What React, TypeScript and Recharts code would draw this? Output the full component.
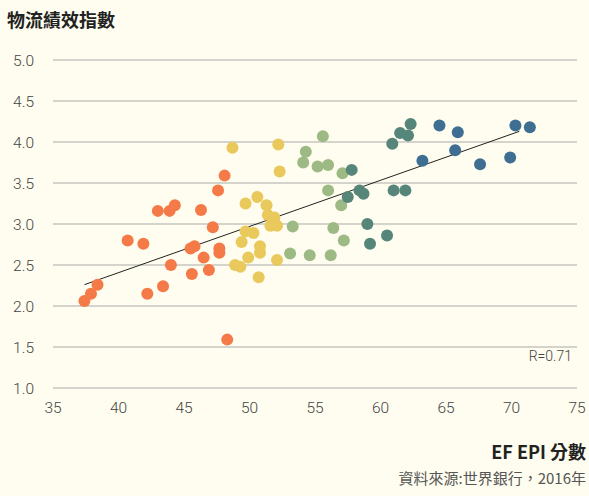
import React from 'react';
import { ScatterChart, Scatter, XAxis, YAxis, CartesianGrid, ReferenceLine } from 'recharts';

const orange = [
  { x: 37.4, y: 2.06 }, { x: 37.9, y: 2.15 }, { x: 38.4, y: 2.26 }, { x: 40.7, y: 2.8 },
  { x: 41.9, y: 2.76 }, { x: 42.2, y: 2.15 }, { x: 43.4, y: 2.24 }, { x: 43.0, y: 3.16 },
  { x: 43.9, y: 3.16 }, { x: 44.3, y: 3.23 }, { x: 44.0, y: 2.5 }, { x: 45.5, y: 2.7 },
  { x: 45.8, y: 2.73 }, { x: 45.6, y: 2.39 }, { x: 46.3, y: 3.17 }, { x: 46.5, y: 2.59 },
  { x: 46.9, y: 2.44 }, { x: 47.2, y: 2.96 }, { x: 47.6, y: 3.41 }, { x: 48.1, y: 3.59 },
  { x: 47.7, y: 2.7 }, { x: 47.7, y: 2.65 }, { x: 48.3, y: 1.59 },
];
const yellow = [
  { x: 48.7, y: 3.93 }, { x: 52.2, y: 3.97 }, { x: 52.3, y: 3.64 }, { x: 49.7, y: 3.25 },
  { x: 50.6, y: 3.33 }, { x: 51.3, y: 3.23 }, { x: 51.4, y: 3.11 }, { x: 51.9, y: 3.08 },
  { x: 51.6, y: 2.98 }, { x: 52.1, y: 2.98 }, { x: 49.7, y: 2.91 }, { x: 50.3, y: 2.89 },
  { x: 49.4, y: 2.78 }, { x: 50.8, y: 2.73 }, { x: 50.8, y: 2.65 }, { x: 49.9, y: 2.59 },
  { x: 48.9, y: 2.5 }, { x: 49.3, y: 2.48 }, { x: 52.1, y: 2.56 }, { x: 50.7, y: 2.35 },
];
const lightGreen = [
  { x: 55.6, y: 4.07 }, { x: 54.3, y: 3.88 }, { x: 54.1, y: 3.75 }, { x: 55.2, y: 3.7 },
  { x: 56.0, y: 3.72 }, { x: 57.1, y: 3.62 }, { x: 56.0, y: 3.41 }, { x: 57.0, y: 3.23 },
  { x: 53.3, y: 2.97 }, { x: 56.4, y: 2.95 }, { x: 57.2, y: 2.8 }, { x: 53.1, y: 2.64 },
  { x: 54.6, y: 2.62 }, { x: 56.2, y: 2.62 },
];
const teal = [
  { x: 57.8, y: 3.66 }, { x: 57.5, y: 3.33 }, { x: 58.4, y: 3.41 }, { x: 58.7, y: 3.37 },
  { x: 59.0, y: 3.0 }, { x: 59.2, y: 2.76 }, { x: 60.5, y: 2.86 }, { x: 60.9, y: 3.98 },
  { x: 61.0, y: 3.41 }, { x: 61.9, y: 3.41 }, { x: 61.5, y: 4.11 }, { x: 62.1, y: 4.08 },
  { x: 62.3, y: 4.22 },
];
const blue = [
  { x: 63.2, y: 3.77 }, { x: 64.5, y: 4.2 }, { x: 65.9, y: 4.12 }, { x: 65.7, y: 3.9 },
  { x: 67.6, y: 3.73 }, { x: 69.9, y: 3.81 }, { x: 70.3, y: 4.2 }, { x: 71.4, y: 4.18 },
];
const trend = [{ x: 37.4, y: 2.26 }, { x: 70.6, y: 4.13 }];
const xTicks = [35, 40, 45, 50, 55, 60, 65, 70, 75];
const yTicks = [1.0, 1.5, 2.0, 2.5, 3.0, 3.5, 4.0, 4.5, 5.0];

const BG = '#FEFDEF';
const numFont = 'Roboto, "Noto Sans", sans-serif';
const cjkFont = '"Noto Sans CJK TC", "Noto Sans", sans-serif';

const Dot = (color: string) => (props: any) => (
  <circle cx={props.cx} cy={props.cy} r={6} fill={color} />
);

export default function App() {
  const tick = { fill: '#444', fontSize: 15.5, fontFamily: numFont, fontWeight: 300 };
  return (
    <div style={{ position: 'absolute', left: 0, top: 0, width: 589, height: 496, background: BG, overflow: 'hidden' }}>
      <ScatterChart width={589} height={496} margin={{ top: 60, right: 12, bottom: 78, left: 0 }}>
        <CartesianGrid horizontal vertical={false} stroke="#aaa" strokeWidth={1} />
        <XAxis
          type="number" dataKey="x" domain={[35, 75]} ticks={xTicks}
          axisLine={false} tickLine={false} tickSize={6} tickMargin={8} height={30}
          tick={tick} interval={0}
        />
        <YAxis
          type="number" dataKey="y" domain={[1, 5]} ticks={yTicks}
          axisLine={false} tickLine={false} tickSize={6} tickMargin={13} width={53}
          tick={tick} interval={0} tickFormatter={(v: number) => v.toFixed(1)}
        />
        <Scatter data={orange} shape={Dot('#F47A48')} isAnimationActive={false} />
        <Scatter data={yellow} shape={Dot('#E9C95B')} isAnimationActive={false} />
        <Scatter data={lightGreen} shape={Dot('#9DBA85')} isAnimationActive={false} />
        <Scatter data={teal} shape={Dot('#56857A')} isAnimationActive={false} />
        <Scatter data={blue} shape={Dot('#3E6F92')} isAnimationActive={false} />
        <ReferenceLine
          segment={trend}
          stroke="#222" strokeWidth={1} ifOverflow="visible"
        />
      </ScatterChart>
      <div style={{ position: 'absolute', left: 7, top: 6, fontFamily: cjkFont, fontWeight: 700, fontSize: 18, color: '#222' }}>
        物流績效指數
      </div>
      <div style={{ position: 'absolute', right: 17, top: 348, fontFamily: numFont, fontWeight: 300, fontSize: 14, color: '#444' }}>
        R=0.71
      </div>
      <div style={{ position: 'absolute', right: 3, top: 438, fontFamily: cjkFont, fontWeight: 700, fontSize: 18, color: '#222' }}>
        EF EPI 分數
      </div>
      <div style={{ position: 'absolute', right: 3, top: 467, fontFamily: cjkFont, fontSize: 15, color: '#555' }}>
        資料來源:世界銀行，2016年
      </div>
    </div>
  );
}
